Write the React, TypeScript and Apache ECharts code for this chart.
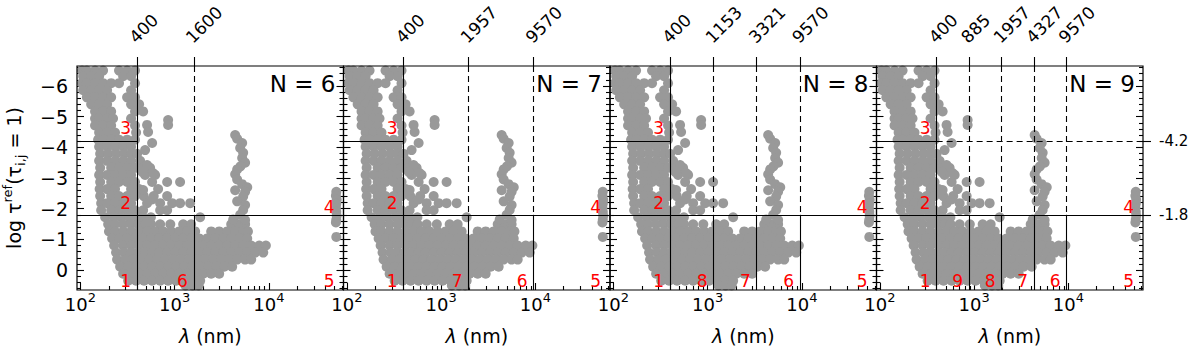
import React, { useEffect, useRef } from "react";
import * as echarts from "echarts";

// ---------- axis ranges ----------
const LAMBDA_MIN = 92;
const LAMBDA_MAX = 62000;
const Y_TOP = -6.65;
const Y_BOTTOM = 0.65;

// ---------- panels ----------
const panelN = [6, 7, 8, 9];
const panelBoundaries = [
  [400, 1600],
  [400, 1957, 9570],
  [400, 1153, 3321, 9570],
  [400, 885, 1957, 4327, 9570],
];
const bottomRegionLabels = [
  ["1", "6", "5"],
  ["1", "7", "6", "5"],
  ["1", "8", "7", "6", "5"],
  ["1", "9", "8", "7", "6", "5"],
];
const upperThreshold = -4.2;
const lowerThreshold = -1.8;

// ---------- ticks ----------
const xMajorTicks = [100, 1000, 10000];
const xMinorTicks = [200, 300, 400, 500, 600, 700, 800, 900, 2000, 3000, 4000, 5000, 6000, 7000, 8000, 9000, 20000, 30000, 40000, 50000, 60000];
const yMajorTicks = [-6, -5, -4, -3, -2, -1, 0];
const yMinorTicks = [-6.6, -6.4, -6.2, -5.8, -5.6, -5.4, -5.2, -4.8, -4.6, -4.4, -4.2, -3.8, -3.6, -3.4, -3.2, -2.8, -2.6, -2.4, -2.2, -1.8, -1.6, -1.4, -1.2, -0.8, -0.6, -0.4, -0.2, 0.2, 0.4, 0.6];
const rightAxisTicks = [-4.2, -1.8];

// ---------- data: [log tau, wavelengths (nm)] per row ----------
const upperBandRows: [number, number[]][] = [
  [-6.5, [104, 117, 143, 174, 257, 313, 380]],
  [-6.32, [107, 130, 158, 284, 345]],
  [-6.09, [104, 117, 143, 174, 212, 257, 380]],
  [-5.86, [107, 130, 158, 192, 345]],
  [-5.63, [117, 143, 174, 212, 313, 380]],
  [-5.4, [130, 158, 192, 345, 420]],
  [-5.17, [143, 174, 212, 380, 463]],
  [-4.94, [143, 158, 192, 222, 345]],
  [-4.71, [143, 174, 212, 380]],
  [-4.48, [158, 192, 233, 390]],
  [-4.25, [154, 174, 212, 257, 313, 380]],
  [-4.02, [158, 192, 233, 284, 345]],
  [-3.79, [162, 197, 240, 292, 345, 400]],
  [-3.56, [158, 192, 233, 284, 345, 430]],
  [-3.33, [162, 212, 257, 313, 380, 463, 549]],
  [-3.1, [158, 192, 233, 284, 345, 486, 621]],
  [-2.87, [162, 212, 257, 313, 380, 577, 833, 1143]],
  [-2.64, [160, 192, 233, 345, 420, 668]],
  [-2.41, [162, 212, 257, 313, 380, 470, 600, 833]],
  [-2.18, [166, 192, 233, 284, 345, 510, 702, 941, 1143, 1462]],
  [-1.95, [166, 212, 257, 313, 380, 463, 702, 833]],
  [-1.72, [183, 225, 270, 330, 400, 463, 560, 1866]],
];
const lowerBlobRows: [number, number[]][] = [
  [-1.49, [197, 233, 284, 345, 410, 486, 563, 702, 900, 1232, 1498, 3986, 4848, 5600]],
  [-1.26, [201, 233, 284, 345, 420, 510, 621, 755, 918, 1117, 1358, 1652, 2443, 2971, 3613, 4394, 5344, 6000]],
  [-1.03, [217, 257, 313, 380, 463, 563, 685, 833, 1012, 1232, 1498, 1822, 2215, 2695, 3277, 3986, 4848, 5896]],
  [-0.8, [228, 284, 345, 420, 510, 621, 755, 918, 1117, 1358, 1652, 2009, 2443, 2971, 3613, 4394, 5344, 6500, 7905, 9300]],
  [-0.57, [239, 290, 345, 410, 486, 577, 685, 833, 1012, 1232, 1498, 1822, 2215, 2695, 3277, 3986, 4848, 5896, 7170, 8721]],
  [-0.34, [245, 300, 362, 441, 536, 652, 793, 962, 1170, 1423, 1730, 2103, 2557, 3110, 3781, 4599, 5590, 6500]],
  [-0.11, [264, 321, 390, 474, 577, 702, 853, 1037, 1261, 1535, 1866, 2269, 2760, 3356, 4080]],
  [0.12, [284, 345, 420, 510, 621, 755, 918, 1117, 1358, 1652, 2009, 2443, 2971]],
  [0.35, [321, 390, 474, 577, 702, 853, 1037, 1261, 1535, 1866]],
  [0.5, [1300, 1550, 1800]],
];
// [wavelength nm, log tau]
const scatteredMid: [number, number][] = [
  [510, -4.73], [523, -4.5], [577, -4.14], [486, -3.91], [853, -4.89], [853, -4.73],
  [510, -3.42], [452, -3.2], [590, -3.16], [463, -2.61], [577, -2.3],
];
const midColumn: [number, number][] = [
  [4390, -4.4], [4610, -4.28], [5210, -4.14], [4960, -3.98], [5340, -3.82], [5210, -3.65],
  [5600, -3.5], [5000, -3.38], [4610, -3.28], [4390, -3.12], [4610, -2.95], [5210, -2.8],
  [5900, -2.7], [5600, -2.55], [4390, -2.6], [5340, -2.4], [4610, -2.24], [5600, -2.12],
  [5340, -1.96], [4960, -1.8], [4185, -1.65], [5600, -1.63],
];
const farColumn: [number, number][] = [
  [52000, -2.55], [51500, -2.42], [52500, -2.29], [52000, -2.16], [51500, -2.03],
  [52000, -1.9], [52500, -1.77], [52000, -1.64], [51500, -1.55], [52000, -1.08],
];

// ---------- layout / style ----------
const FONT = "DejaVu Sans";
const GRID_LEFT = 77;
const GRID_TOP = 66;
const GRID_W = 266.5;
const GRID_H = 224;
const POINT_COLOR = "#999999";
const RED = "#ff0000";

const LOG = (v: number) => Math.log10(v);
const LOG_MIN = LOG(LAMBDA_MIN);
const LOG_MAX = LOG(LAMBDA_MAX);

const rowsToPoints = (rows: [number, number[]][]) =>
  rows.flatMap(([y, ls]) => ls.map((l) => [l, y] as [number, number]));
const allPoints: [number, number][] = [
  ...rowsToPoints(upperBandRows),
  ...rowsToPoints(lowerBlobRows),
  ...scatteredMid,
  ...midColumn,
  ...farColumn,
];
const scatterData = allPoints.map(([l, y]) => [LOG(l), y]);

type Label = {
  x: number; y: number; text: string; dx: number; dy: number; rot?: number;
  align: string; va: string; size: number; color: string;
};

function panelLabels(i: number): Label[] {
  const items: Label[] = [];
  const bounds = panelBoundaries[i];
  bounds.forEach((b) =>
    items.push({ x: LOG(b), y: Y_TOP, text: String(b), dx: -5, dy: -26, rot: Math.PI / 4, align: "left", va: "middle", size: 17, color: "#000" })
  );
  items.push({ x: LOG_MAX, y: Y_TOP, text: `N = ${panelN[i]}`, dx: -8, dy: 18, align: "right", va: "middle", size: 23, color: "#000" });
  const redX = [...bounds.map(LOG), LOG_MAX];
  bottomRegionLabels[i].forEach((t, k) =>
    items.push({ x: redX[k], y: 0.36, text: t, dx: k === redX.length - 1 ? -9 : -6, dy: 0, align: "right", va: "middle", size: 17, color: RED })
  );
  items.push({ x: LOG(400), y: -4.62, text: "3", dx: -6, dy: 0, align: "right", va: "middle", size: 17, color: RED });
  items.push({ x: LOG(400), y: -2.2, text: "2", dx: -6, dy: 0, align: "right", va: "middle", size: 17, color: RED });
  items.push({ x: LOG_MAX, y: -2.05, text: "4", dx: -9, dy: 0, align: "right", va: "middle", size: 17, color: RED });
  return items;
}

function seg(x1: number, y1: number, x2: number, y2: number, dashed: boolean) {
  return [
    { coord: [x1, y1], lineStyle: { type: dashed ? [6, 4] : "solid", color: "#000", width: 1.1 } },
    { coord: [x2, y2] },
  ];
}

function panelLines(i: number) {
  const segs: any[] = [];
  panelBoundaries[i].forEach((b, k) => {
    const x = LOG(b);
    if (k === 0) segs.push(seg(x, Y_TOP, x, Y_BOTTOM, false));
    else {
      segs.push(seg(x, Y_TOP, x, lowerThreshold, true));
      segs.push(seg(x, lowerThreshold, x, Y_BOTTOM, false));
    }
  });
  segs.push(seg(LOG_MIN, lowerThreshold, LOG_MAX, lowerThreshold, false));
  segs.push(seg(LOG_MIN, upperThreshold, LOG(400), upperThreshold, false));
  if (i === panelN.length - 1) segs.push(seg(LOG(400), upperThreshold, LOG_MAX, upperThreshold, true));
  return segs;
}

function buildOption() {
  const tickLine = { color: "#000", width: 1.1 };
  const noLine = { show: false, onZero: false };
  const grids: any[] = [];
  const xAxes: any[] = [];
  const yAxes: any[] = [];
  const series: any[] = [];

  panelN.forEach((_, i) => {
    grids.push({
      left: GRID_LEFT + i * GRID_W, top: GRID_TOP, width: GRID_W, height: GRID_H,
      show: true, borderColor: "#000", borderWidth: 1.2, backgroundColor: "transparent", z: 10,
    });
    const baseX = { gridIndex: i, type: "value", min: LOG_MIN, max: LOG_MAX, axisLine: noLine, splitLine: { show: false } };
    xAxes.push({
      ...baseX, position: "bottom",
      axisTick: { show: true, inside: true, length: 7, customValues: xMajorTicks.map(LOG), lineStyle: tickLine },
      axisLabel: {
        show: true, customValues: xMajorTicks.map(LOG), margin: 1,
        formatter: (v: number) => `{b|10}{s|${Math.round(v)}}`,
        rich: {
          b: { fontSize: 18, lineHeight: 26, fontFamily: FONT, color: "#000" },
          s: { fontSize: 13, verticalAlign: "top", fontFamily: FONT, color: "#000" },
        },
      },
      name: "{i|λ} (nm)", nameLocation: "middle", nameGap: 36,
      nameTextStyle: { fontSize: 19, fontFamily: FONT, color: "#000", rich: { i: { fontStyle: "italic", fontSize: 19, fontFamily: FONT, color: "#000" } } },
    });
    xAxes.push({
      ...baseX, position: "bottom",
      axisTick: { show: true, inside: true, length: 4, customValues: xMinorTicks.map(LOG), lineStyle: tickLine },
      axisLabel: { show: false },
    });
    xAxes.push({
      ...baseX, position: "top",
      axisTick: { show: true, inside: false, length: 9, customValues: panelBoundaries[i].map(LOG), lineStyle: tickLine },
      axisLabel: { show: false },
    });

    const baseY = { gridIndex: i, type: "value", min: Y_TOP, max: Y_BOTTOM, inverse: true, axisLine: noLine, splitLine: { show: false } };
    const leftMain: any = {
      ...baseY, position: "left",
      axisTick: { show: true, inside: true, length: 7, customValues: yMajorTicks, lineStyle: tickLine },
      axisLabel: i === 0
        ? { show: true, customValues: yMajorTicks, margin: 9, fontSize: 19, fontFamily: FONT, color: "#000", formatter: (v: number) => (v < 0 ? "\u2212" + Math.abs(v) : String(v)) }
        : { show: false },
    };
    if (i === 0) {
      leftMain.name = "{t|log τ}{s|ref}{t|(τ}{b|i,j}{t| = 1)}";
      leftMain.nameLocation = "middle";
      leftMain.nameRotate = 90;
      leftMain.nameGap = 50;
      leftMain.nameTextStyle = {
        fontSize: 19, fontFamily: FONT, color: "#000",
        rich: {
          t: { fontSize: 19, lineHeight: 26, fontFamily: FONT, color: "#000" },
          s: { fontSize: 13, verticalAlign: "top", fontFamily: FONT, color: "#000" },
          b: { fontSize: 13, verticalAlign: "bottom", fontFamily: FONT, color: "#000" },
        },
      };
    }
    yAxes.push(leftMain);
    yAxes.push({ ...baseY, position: "left", axisTick: { show: true, inside: true, length: 4, customValues: yMinorTicks, lineStyle: tickLine }, axisLabel: { show: false } });
    yAxes.push({ ...baseY, position: "right", axisTick: { show: true, inside: true, length: 7, customValues: yMajorTicks, lineStyle: tickLine }, axisLabel: { show: false } });
    yAxes.push({ ...baseY, position: "right", axisTick: { show: true, inside: true, length: 4, customValues: yMinorTicks, lineStyle: tickLine }, axisLabel: { show: false } });

    series.push({
      type: "scatter", xAxisIndex: 3 * i, yAxisIndex: 4 * i, data: scatterData, clip: false,
      symbol: "circle", symbolSize: 10, itemStyle: { color: POINT_COLOR, opacity: 1 }, silent: true, z: 2,
      markLine: { silent: true, symbol: ["none", "none"], label: { show: false }, data: panelLines(i) },
    });
    const labels = panelLabels(i);
    series.push({
      type: "custom", xAxisIndex: 3 * i, yAxisIndex: 4 * i, silent: true, z: 20, clip: false,
      data: labels.map((l) => [l.x, l.y]),
      renderItem: (params: any, api: any) => {
        const l = labels[params.dataIndex];
        const p = api.coord([l.x, l.y]);
        return {
          type: "text", x: p[0] + l.dx, y: p[1] + l.dy, rotation: l.rot || 0,
          style: { text: l.text, fill: l.color, fontSize: l.size, fontFamily: FONT, align: l.align, verticalAlign: l.va },
        };
      },
    });
  });

  yAxes.push({
    gridIndex: panelN.length - 1, type: "value", min: Y_TOP, max: Y_BOTTOM, inverse: true, position: "right",
    axisLine: noLine, splitLine: { show: false },
    axisTick: { show: true, inside: false, length: 8, customValues: rightAxisTicks, lineStyle: tickLine },
    axisLabel: { show: true, customValues: rightAxisTicks, margin: 16, fontSize: 15, fontFamily: FONT, color: "#000", formatter: (v: number) => v.toFixed(1) },
  });

  return { animation: false, backgroundColor: "#fff", grid: grids, xAxis: xAxes, yAxis: yAxes, series };
}

export default function App() {
  const ref = useRef<HTMLDivElement>(null);
  useEffect(() => {
    const chart = echarts.init(ref.current!, null, { renderer: "svg" });
    chart.setOption(buildOption() as any);
    return () => chart.dispose();
  }, []);
  return <div ref={ref} style={{ position: "absolute", left: 0, top: 0, width: 1200, height: 352 }} />;
}
